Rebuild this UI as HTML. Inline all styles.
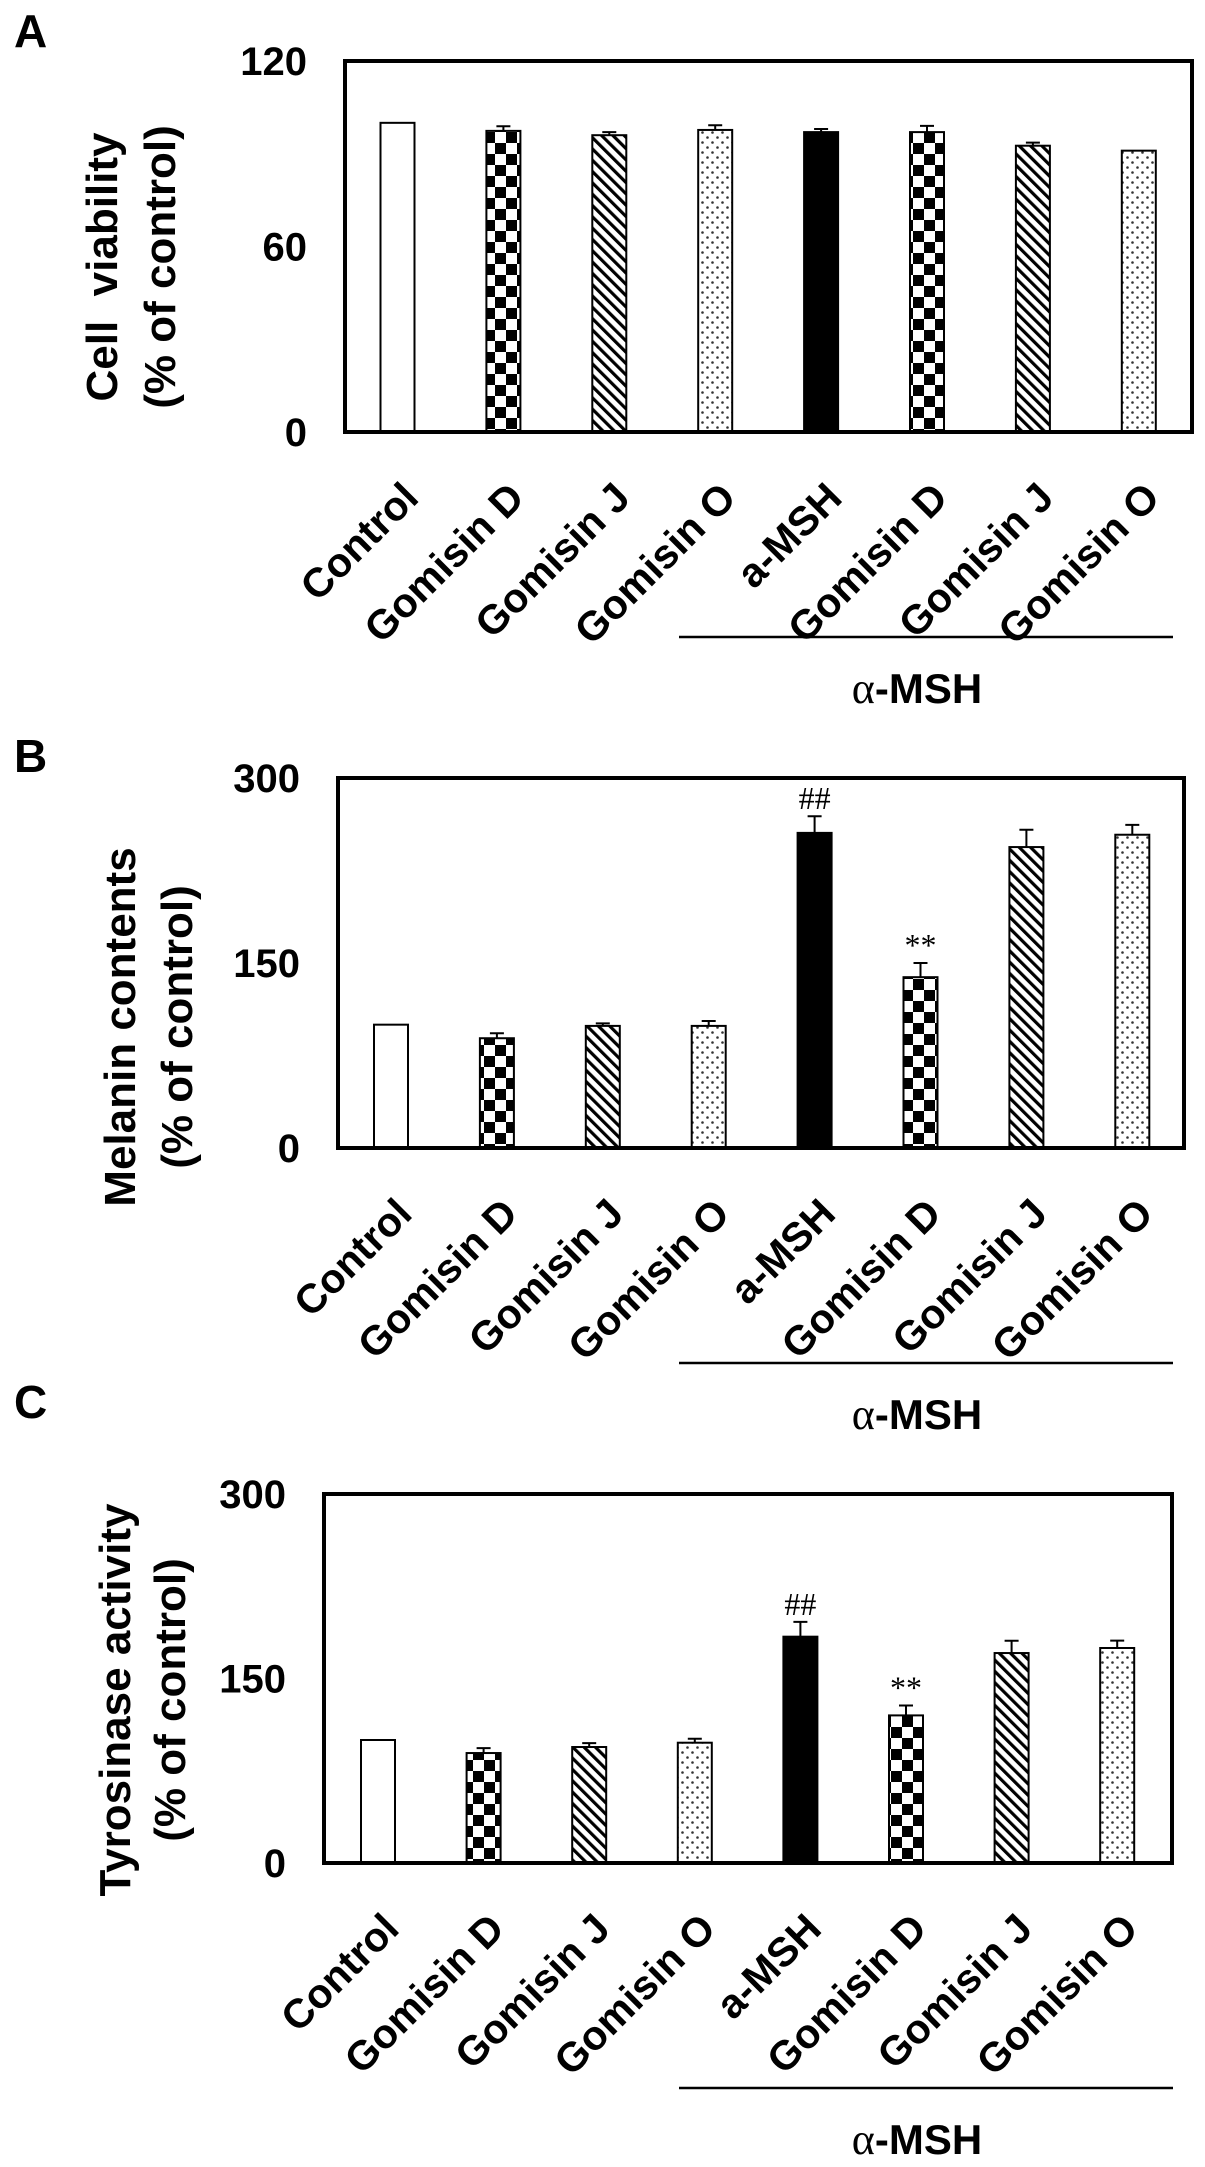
<!DOCTYPE html>
<html><head><meta charset="utf-8">
<style>
html,body{margin:0;padding:0;background:#fff;}
svg{display:block;}
text{font-family:"Liberation Sans",Arial,sans-serif;font-weight:bold;fill:#000;}
.ser{font-family:"Liberation Serif",serif;font-weight:normal;}
</style></head>
<body>
<svg id="fig" width="1205" height="2167" viewBox="0 0 1205 2167" xmlns="http://www.w3.org/2000/svg">
<defs>
<pattern id="pCheck" patternUnits="userSpaceOnUse" width="22" height="22">
<rect width="22" height="22" fill="#fff"/><rect width="11" height="11" fill="#000"/><rect x="11" y="11" width="11" height="11" fill="#000"/>
</pattern>
<pattern id="pHatch" patternUnits="userSpaceOnUse" width="8" height="8" patternTransform="rotate(-45)">
<rect width="8" height="8" fill="#fff"/><rect width="3.2" height="8" fill="#000"/>
</pattern>
<pattern id="pDots" patternUnits="userSpaceOnUse" width="10" height="10">
<rect width="10" height="10" fill="#fff"/><circle cx="2.5" cy="2.5" r="1.3" fill="#333"/><circle cx="7.5" cy="7.5" r="1.3" fill="#333"/>
</pattern>
</defs>
<g id="root"></g>
</svg>
<script>
// ---- data ----
const categories = ["Control","Gomisin D","Gomisin J","Gomisin O","a-MSH","Gomisin D","Gomisin J","Gomisin O"];
const viabilityValues = [100, 97.4, 96, 97.7, 97, 97, 92.6, 91];
const viabilityErrors = [0, 1.5, 1, 1.5, 1, 2, 1, 0];
const viabilityTicks = [0, 60, 120];
const melaninValues = [100, 89, 99, 99, 255.5, 138.5, 244, 254];
const melaninErrors = [0, 4, 2, 4, 13.5, 11.5, 14, 8];
const melaninTicks = [0, 150, 300];
const melaninMarks = ["", "", "", "", "##", "**", "", ""];
const tyrosinaseValues = [100, 89.4, 94.3, 97.8, 184, 120, 170.7, 174.8];
const tyrosinaseErrors = [0, 4, 3.2, 3.2, 12, 8, 10, 6];
const tyrosinaseTicks = [0, 150, 300];
const tyrosinaseMarks = ["", "", "", "", "##", "**", "", ""];
const fills = ["#fff","url(#pCheck)","url(#pHatch)","url(#pDots)","#000","url(#pCheck)","url(#pHatch)","url(#pDots)"];

const NS = "http://www.w3.org/2000/svg";
const root = document.getElementById("root");
function mk(tag, attrs, parent, txt){
  const e = document.createElementNS(NS, tag);
  for (const k in attrs) e.setAttribute(k, attrs[k]);
  if (txt !== undefined) e.textContent = txt;
  (parent || root).appendChild(e);
  return e;
}

function panel(cfg){
  const g = mk("g", {});
  
  
  const ymax = cfg.ticks[cfg.ticks.length-1];
  const yScale = v => cfg.bottom - (v / ymax) * (cfg.bottom - cfg.top);
  const xScale = i => cfg.c0 + i * cfg.step;
  const bw = 34;

  const L = mk("text", {x:14, y:cfg.letterY, "font-size":46}, g, cfg.letter);
  
  

  const cy = cfg.titleCY;
  const t1 = mk("text", {x:cfg.tb1, y:cy, "font-size":44, "text-anchor":"middle", transform:`rotate(-90 ${cfg.tb1} ${cy})`}, g, cfg.title1);
  
  
  t1.style.whiteSpace = 'pre';
  const t2 = mk("text", {x:cfg.tb2, y:cy, "font-size":44, "text-anchor":"middle", transform:`rotate(-90 ${cfg.tb2} ${cy})`}, g, "(% of control)");
  
  

  cfg.ticks.forEach(t => {
    const tt = mk("text", {x:cfg.left-38, y:yScale(t)+14, "font-size":40, "text-anchor":"end"}, g, String(t));
    
    
  });

  cfg.values.forEach((v, i) => {
    const cx = xScale(i);
    const yt = yScale(v);
    const r = mk("rect", {x:cx-bw/2, y:yt, width:bw, height:cfg.bottom-yt, fill:fills[i], stroke:"#000", "stroke-width":2}, g);
    
    
    const e = cfg.errors[i];
    if (e > 0) {
      const ye = yScale(v + e);
      const el = mk("path", {d:`M${cx} ${yt} V${ye} M${cx-7} ${ye} H${cx+7}`, stroke:"#000", "stroke-width":2, fill:"none"}, g);
      
      
    }
    if (cfg.marks && cfg.marks[i]) {
      const ye = yScale(v + e);
      const m = mk("text", {x:cx, y:ye-7, "font-size":32, "text-anchor":"middle", class:"ser"}, g, cfg.marks[i]);
      
      
    }
    const ax = cx + 23, ay = cfg.bottom + 68;
    const xl = mk("text", {x:ax, y:ay, "font-size":41, "text-anchor":"end", transform:`rotate(-45 ${ax} ${ay})`}, g, categories[i]);
    
    
  });

  const f = mk("rect", {x:cfg.left, y:cfg.top, width:cfg.right-cfg.left, height:cfg.bottom-cfg.top, fill:"none", stroke:"#000", "stroke-width":4}, g);
  
  

  const br = mk("line", {x1:679, x2:1173, y1:cfg.lineY, y2:cfg.lineY, stroke:"#000", "stroke-width":2.5}, g);
  
  
  const gt = mk("text", {x:917, y:cfg.lineY+66, "font-size":42, "text-anchor":"middle"}, g);
  
  
  mk("tspan", {class:"ser", "font-size":44}, gt, "α");
  mk("tspan", {}, gt, "-MSH");
}

panel({name:"panel-a-cell-viability", letter:"A", letterY:47, title1:"Cell  viability",
  tb1:117, tb2:175, titleCY:267,
  left:345, right:1192, top:61, bottom:432, c0:397.5, step:105.9,
  ticks:viabilityTicks, values:viabilityValues, errors:viabilityErrors, lineY:637});
panel({name:"panel-b-melanin", letter:"B", letterY:772, title1:"Melanin contents",
  tb1:135, tb2:192, titleCY:1027,
  left:338, right:1184, top:778, bottom:1148, c0:391, step:105.9,
  ticks:melaninTicks, values:melaninValues, errors:melaninErrors, marks:melaninMarks, lineY:1363});
panel({name:"panel-c-tyrosinase", letter:"C", letterY:1418, title1:"Tyrosinase activity",
  tb1:130, tb2:185, titleCY:1700,
  left:324, right:1172, top:1494, bottom:1863, c0:378, step:105.6,
  ticks:tyrosinaseTicks, values:tyrosinaseValues, errors:tyrosinaseErrors, marks:tyrosinaseMarks, lineY:2088});
</script>
</body></html>
